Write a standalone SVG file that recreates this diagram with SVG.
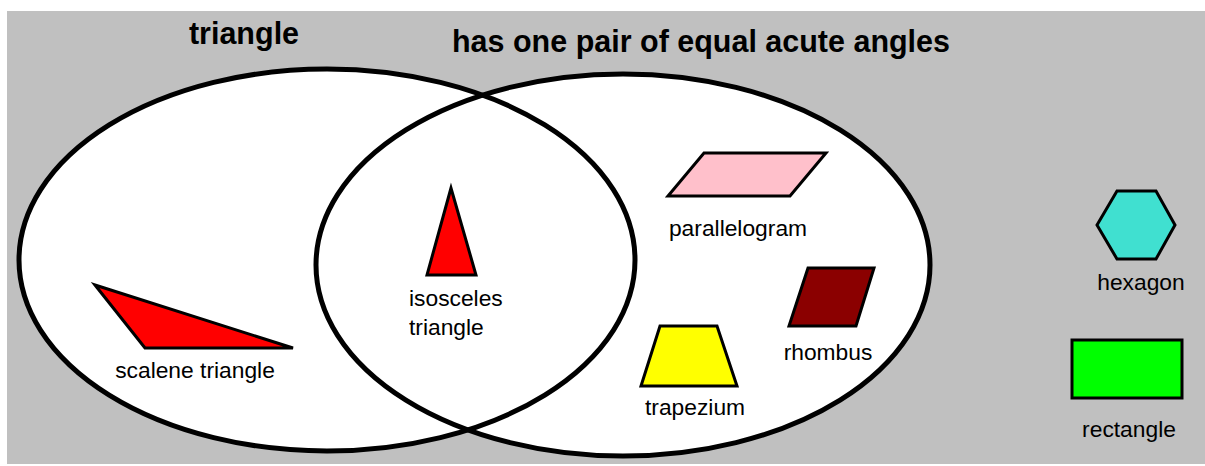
<svg xmlns="http://www.w3.org/2000/svg" width="1205" height="466" viewBox="0 0 1205 466">
<style>
.set{fill:none;stroke:#000;stroke-width:5}
.shape{stroke:#000;stroke-width:3;stroke-linejoin:miter}
.title{font-family:"Liberation Sans",Arial,sans-serif;font-weight:bold;font-size:30.5px;fill:#000}
.lbl{font-family:"Liberation Sans",Arial,sans-serif;font-size:22.8px;fill:#000}
</style>
<rect x="0" y="0" width="1205" height="466" fill="#fff"/>
<rect x="7" y="11" width="1198" height="453" fill="#c0c0c0"/>
<g id="set-fills">
<ellipse cx="327" cy="260" rx="308" ry="191" fill="#fff"/>
<ellipse cx="623" cy="265" rx="307" ry="191" fill="#fff"/>
</g>
<g id="set-triangle">
<ellipse class="set" cx="327" cy="260" rx="308" ry="191"/>
<text class="title" x="244" y="44" text-anchor="middle">triangle</text>
</g>
<g id="set-acute">
<ellipse class="set" cx="623" cy="265" rx="307" ry="191"/>
<text class="title" x="701" y="52" text-anchor="middle" textLength="498" lengthAdjust="spacingAndGlyphs">has one pair of equal acute angles</text>
</g>
<g id="connectors"></g>
<g id="scalene">
<polygon class="shape" fill="#ff0000" points="95,285 145,348 293,348"/>
<text class="lbl" x="195" y="378" text-anchor="middle">scalene triangle</text>
</g>
<g id="isosceles">
<polygon class="shape" fill="#ff0000" points="451,188 427,275 476,275"/>
<text class="lbl" x="409" y="306">isosceles</text>
<text class="lbl" x="409" y="335">triangle</text>
</g>
<g id="parallelogram">
<polygon class="shape" fill="#ffc0cb" points="704,153 826,153 790,196 668,196"/>
<text class="lbl" x="738" y="236" text-anchor="middle">parallelogram</text>
</g>
<g id="rhombus">
<polygon class="shape" fill="#8b0000" points="808,268 874,268 856,326 789,326"/>
<text class="lbl" x="828" y="360" text-anchor="middle">rhombus</text>
</g>
<g id="trapezium">
<polygon class="shape" fill="#ffff00" points="660,326 717,326 737,386 641,386"/>
<text class="lbl" x="695" y="415" text-anchor="middle">trapezium</text>
</g>
<g id="hexagon">
<polygon class="shape" fill="#40e0d0" points="1097,225 1117,191 1156,191 1175,225 1156,259 1117,259"/>
<text class="lbl" x="1141" y="290" text-anchor="middle">hexagon</text>
</g>
<g id="rectangle">
<rect class="shape" fill="#00ff00" x="1072" y="340" width="110" height="58"/>
<text class="lbl" x="1129" y="437" text-anchor="middle">rectangle</text>
</g>
</svg>
